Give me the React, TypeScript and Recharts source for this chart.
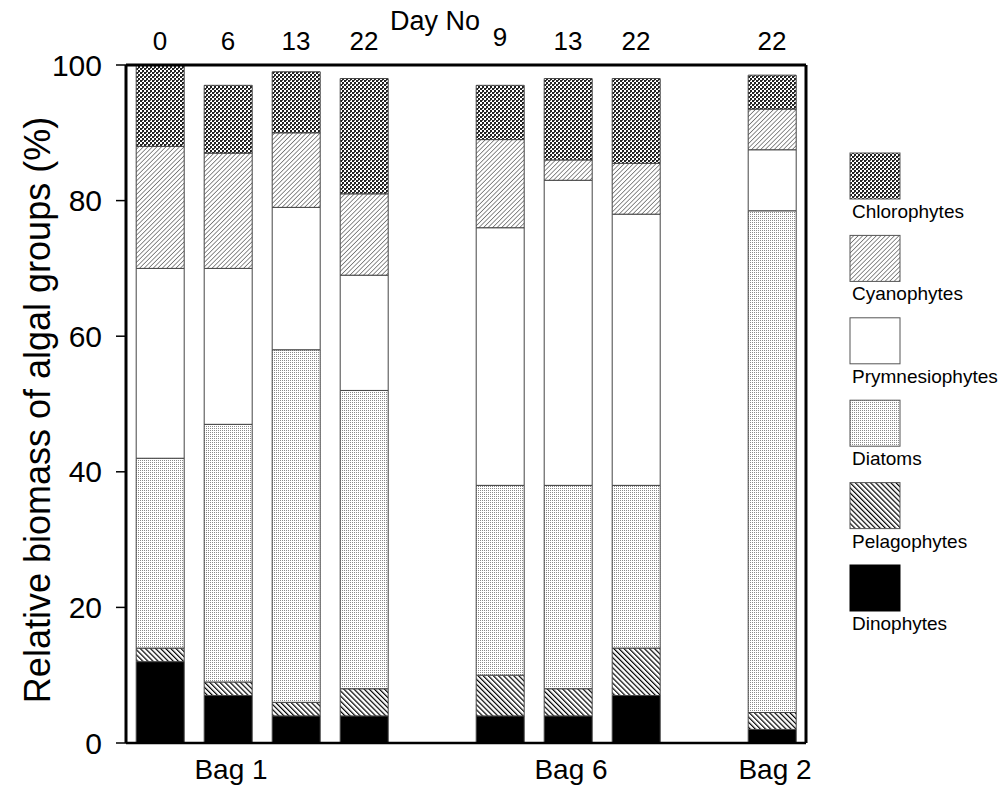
import React from "react";
import { Bar, BarChart, XAxis, YAxis } from "recharts";

// slot ids: ten equal slots along the x axis, two of them empty
const slots = ["s0", "s1", "s2", "s3", "s4", "s5", "s6", "s7", "s8", "s9"];
const dayLabels = ["0", "6", "13", "22", "Day No", "9", "13", "22", "", "22"];
const bagLabels = ["", "Bag 1", "", "", "", "", "Bag 6", "", "", "Bag 2"];
const boundaryTicks = [0, 1, 2, 3, 4, 5, 6, 7, 8, 9, 10];
const yTicks = [0, 20, 40, 60, 80, 100];

// relative biomass (%) per group, bottom of stack first
const dino = [12, 7, 4, 4, null, 4, 4, 7, null, 2];
const pelago = [2, 2, 2, 4, null, 6, 4, 7, null, 2.5];
const diatoms = [28, 38, 52, 44, null, 28, 30, 24, null, 74];
const prymn = [28, 23, 21, 17, null, 38, 45, 40, null, 9];
const cyano = [18, 17, 11, 12, null, 13, 3, 7.5, null, 6];
const chloro = [12, 10, 9, 17, null, 8, 12, 12.5, null, 5];

const groups = [
  { key: "dino", name: "Dinophytes", values: dino, fill: "#000" },
  { key: "pelago", name: "Pelagophytes", values: pelago, fill: "url(#p-pelago)" },
  { key: "diatoms", name: "Diatoms", values: diatoms, fill: "url(#p-diatoms)" },
  { key: "prymn", name: "Prymnesiophytes", values: prymn, fill: "#fff" },
  { key: "cyano", name: "Cyanophytes", values: cyano, fill: "url(#p-cyano)" },
  { key: "chloro", name: "Chlorophytes", values: chloro, fill: "url(#p-chloro)" },
];

const data = slots.map((slot, i) => {
  const row: Record<string, string | number | null> = { slot };
  groups.forEach((g) => {
    row[g.key] = g.values[i];
  });
  return row;
});

const FONT = "'Liberation Sans', Arial, Helvetica, sans-serif";

function Patterns() {
  return (
    <defs>
      <pattern id="p-chloro" width="4" height="4" patternUnits="userSpaceOnUse">
        <rect width="4" height="4" fill="#fff" />
        <rect x="0" y="0" width="2" height="2" fill="#222" />
        <rect x="2" y="2" width="2" height="2" fill="#222" />
        <rect x="2" y="0" width="1" height="1" fill="#555" />
      </pattern>
      <pattern id="p-cyano" width="3.2" height="3.2" patternUnits="userSpaceOnUse" patternTransform="rotate(45)">
        <rect width="3.2" height="3.2" fill="#fff" />
        <line x1="0" y1="0" x2="0" y2="3.2" stroke="#333" strokeWidth="1.1" />
      </pattern>
      <pattern id="p-diatoms" width="2" height="2" patternUnits="userSpaceOnUse">
        <rect width="2" height="2" fill="#fff" />
        <rect x="0" y="0" width="1" height="1" fill="#8a8a8a" />
      </pattern>
      <pattern id="p-pelago" width="3.6" height="3.6" patternUnits="userSpaceOnUse" patternTransform="rotate(-45)">
        <rect width="3.6" height="3.6" fill="#fff" />
        <line x1="0" y1="0" x2="0" y2="3.6" stroke="#000" strokeWidth="2.4" />
      </pattern>
    </defs>
  );
}

function DayTick(props: any) {
  const { x, y, payload } = props;
  const i = slots.indexOf(payload.value);
  const label = dayLabels[i];
  if (!label) return null;
  if (label === "Day No") {
    return (
      <text x={x + 3} y={y - 33} textAnchor="middle" fontSize={27} fontFamily={FONT} fill="#000">
        {label}
      </text>
    );
  }
  const low = i === 5; // the "9" sits a little lower, right after the title
  return (
    <text x={x} y={y - (low ? 17 : 13)} textAnchor="middle" fontSize={26} fontFamily={FONT} fill="#000">
      {label}
    </text>
  );
}

function BagTick(props: any) {
  const { x, y, payload } = props;
  const label = bagLabels[slots.indexOf(payload.value)];
  if (!label) return null;
  return (
    <text x={x + 3} y={y + 24} textAnchor="middle" fontSize={28} fontFamily={FONT} fill="#000">
      {label}
    </text>
  );
}

function YTitle(props: any) {
  const vb = props.viewBox || { x: 0, y: 65, height: 678 };
  const cx = vb.x + 37;
  const cy = vb.y + vb.height / 2 + 6;
  return (
    <text
      x={cx}
      y={cy}
      transform={`rotate(-90 ${cx} ${cy})`}
      textAnchor="middle"
      dominantBaseline="central"
      fontSize={36}
      fontFamily={FONT}
      fill="#000"
    >
      Relative biomass of algal groups (%)
    </text>
  );
}

function LegendBox() {
  const top = 153;
  const step = 82.4;
  const legendOrder = [...groups].reverse();
  return (
    <svg width={163} height={700} style={{ position: "absolute", left: 840, top: 0, overflow: "visible" }}>
      {legendOrder.map((g, i) => (
        <g key={g.key}>
          <rect
            x={10}
            y={top + i * step}
            width={50}
            height={46}
            fill={g.fill}
            stroke={g.key === "dino" ? "#000" : "#555"}
            strokeWidth={1}
          />
          <text x={12} y={top + i * step + 65} fontSize={19} fontFamily={FONT} fill="#000">
            {g.name}
          </text>
        </g>
      ))}
    </svg>
  );
}

export default function App() {
  return (
    <div style={{ position: "absolute", left: 0, top: 0, width: 1003, height: 786, background: "#fff" }}>
      <BarChart
        width={1003}
        height={786}
        data={data}
        margin={{ top: 0, right: 195, bottom: 0, left: 0 }}
        barCategoryGap="15%"
      >
        <Patterns />
        <XAxis
          xAxisId="b_bag"
          dataKey="slot"
          height={33}
          interval={0}
          axisLine={false}
          tickLine={false}
          tickSize={0}
          tick={<BagTick />}
        />
        <XAxis
          xAxisId="a_ticks"
          type="number"
          domain={[0, 10]}
          ticks={boundaryTicks}
          interval={0}
          tick={false}
          tickSize={9}
          height={10}
          allowDataOverflow
          axisLine={{ stroke: "#000", strokeWidth: 2.5 }}
          tickLine={{ stroke: "#000", strokeWidth: 1.5 }}
        />
        <XAxis
          xAxisId="top"
          orientation="top"
          dataKey="slot"
          height={65}
          interval={0}
          tickLine={false}
          tickSize={0}
          axisLine={{ stroke: "#000", strokeWidth: 3 }}
          tick={<DayTick />}
        />
        <YAxis
          yAxisId="left"
          domain={[0, 100]}
          ticks={yTicks}
          width={126}
          tickSize={10}
          tickMargin={14}
          axisLine={{ stroke: "#000", strokeWidth: 3 }}
          tickLine={{ stroke: "#000", strokeWidth: 1.5 }}
          tick={{ fill: "#000", fontSize: 30, fontFamily: FONT }}
          label={{ content: YTitle }}
        />
        <YAxis
          yAxisId="right"
          orientation="right"
          domain={[0, 100]}
          width={2}
          tick={false}
          tickLine={false}
          axisLine={{ stroke: "#000", strokeWidth: 3 }}
        />
        {groups.map((g) => (
          <Bar
            key={g.key}
            dataKey={g.key}
            name={g.name}
            stackId="algae"
            xAxisId="b_bag"
            yAxisId="left"
            fill={g.fill}
            stroke="#444"
            strokeWidth={1}
            isAnimationActive={false}
          />
        ))}
      </BarChart>
      <LegendBox />
    </div>
  );
}
